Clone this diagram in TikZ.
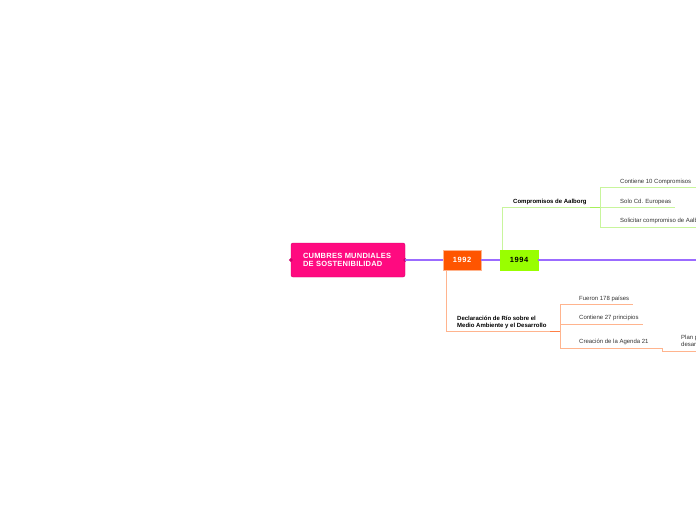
\documentclass[tikz,border=0pt]{standalone}
\usepackage{fontspec}
\setmainfont{Liberation Sans}
\usepackage{xcolor}
\definecolor{summitpink}{HTML}{FF0A80}
\definecolor{summitpinkdark}{HTML}{D0006A}
\definecolor{summitpurple}{HTML}{9B6BFF}
\definecolor{rioorange}{HTML}{FF5500}
\definecolor{riopeach}{HTML}{FFB48E}
\definecolor{riodark}{HTML}{FF7F45}
\definecolor{aalgreen}{HTML}{99FF00}
\definecolor{aallime}{HTML}{C8F59C}
\definecolor{aaldark}{HTML}{A6F05A}
\definecolor{leafgray}{HTML}{333333}

\begin{document}
\begin{tikzpicture}[x=1pt,y=-1pt,font=\fontsize{6}{7}\selectfont,
  yearbox/.style={minimum width=38pt,minimum height=20pt,inner sep=0pt,
    font=\bfseries\fontsize{7.5}{8}\selectfont\addfontfeatures{LetterSpace=8}},
  leaf/.style={anchor=base west,inner xsep=4pt,inner ysep=3pt,
    text depth=1.5pt,text=leafgray},
  topic/.style={anchor=base west,inner xsep=0pt,inner ysep=3pt,
    text depth=1.5pt,align=left,font=\bfseries\fontsize{6}{6.8}\selectfont}]
\useasboundingbox (0,0) rectangle (696,520);
\clip (0,0) rectangle (696,520);
% central topic
\node[draw=summitpinkdark,fill=summitpink,rounded corners=2pt,text=white,
  minimum height=34pt,text width=90pt,inner xsep=12pt,align=left,
  font=\bfseries\fontsize{7.5}{8.3}\selectfont\addfontfeatures{LetterSpace=3}] (cumbres) at (348,260)
  {CUMBRES MUNDIALES\\DE SOSTENIBILIDAD};
\fill[summitpinkdark] (cumbres.west) ++(-2,0) -- ++(2,-2) -- ++(2,2) -- ++(-2,2) -- cycle;
\fill[summitpinkdark] (cumbres.east) ++(-2,0) -- ++(2,-2) -- ++(2,2) -- ++(-2,2) -- cycle;
% years
\node[yearbox,fill=rioorange,draw=riopeach,text=white] (y1992) at (462,260) {1992};
\node[yearbox,fill=aalgreen,draw=aalgreen,text=black] (y1994) at (519,260) {1994};
\coordinate (lineend) at (700,260);
\draw[summitpurple,line width=1.2pt] (cumbres.east) -- (y1992.west);
\draw[summitpurple,line width=1.2pt] (y1992.east) -- (y1994.west);
\draw[summitpurple,line width=1.2pt] (y1994.east) -- (lineend);
% 1994: Aalborg
\node[topic] (aalborg) at (513,203) {Compromisos de Aalborg};
\coordinate (aalroot) at ([xshift=3pt]y1994.north west);
\coordinate (aalfork) at (600,207.5);
\draw[aallime,line width=0.9pt] (aalroot) |- (aalfork);
\draw[aaldark,line width=1.3pt] ([xshift=-10pt]aalfork) -- (aalfork);
\node[leaf] (compromisos) at (616,183) {Contiene 10 Compromisos};
\node[leaf] (europeas) at (616,203) {Solo Cd. Europeas};
\node[leaf] (solicitar) at (616,222.5) {Solicitar compromiso de Aalborg};
\draw[aallime,line width=0.9pt] (aalfork |- compromisos.south) -- (aalfork |- solicitar.south);
\draw[aallime,line width=0.9pt] (aalfork |- compromisos.south) -- (compromisos.south east -| lineend);
\draw[aallime,line width=0.9pt] (aalfork |- europeas.south) -- (europeas.south east);
\draw[aallime,line width=0.9pt] (aalfork |- solicitar.south) -- (solicitar.south east -| lineend);
% 1992: Rio
\node[topic] (rio) at (457,327) {Declaración de Río sobre el\\Medio Ambiente y el Desarrollo};
\coordinate (rioroot) at ([xshift=4pt]y1992.south west);
\coordinate (riofork) at (560,331.7);
\draw[riopeach,line width=0.9pt] (rioroot) |- (riofork);
\draw[riodark,line width=1.3pt] ([xshift=-10pt]riofork) -- (riofork);
\node[leaf] (paises) at (575,300) {Fueron 178 países};
\node[leaf] (principios) at (575,319.3) {Contiene 27 principios};
\node[leaf] (agenda) at (575,343.3) {Creación de la Agenda 21};
\draw[riopeach,line width=0.9pt] (riofork |- paises.south) -- (riofork |- agenda.south);
\draw[riopeach,line width=0.9pt] (riofork |- paises.south) -- (paises.south east);
\draw[riopeach,line width=0.9pt] (riofork |- principios.south) -- (principios.south east);
\node[leaf,align=left] (plan) at (677,346.5) {Plan para el\\desarrollo sostenible};
\coordinate (planstep) at (662,0);
\draw[riopeach,line width=0.9pt] (riofork |- agenda.south) -- (planstep |- agenda.south)
  -- (planstep |- plan.south) -- (plan.south -| lineend);
\end{tikzpicture}
\end{document}
